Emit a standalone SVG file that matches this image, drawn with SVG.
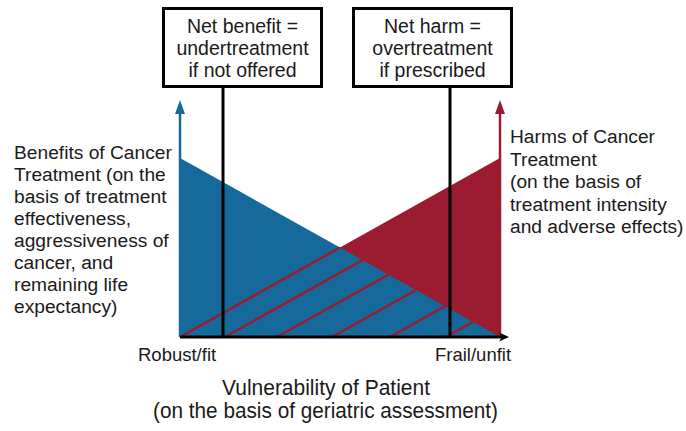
<svg xmlns="http://www.w3.org/2000/svg" width="686" height="431" viewBox="0 0 686 431">
  <style>
    text { font-family: "Liberation Sans", Arial, sans-serif; fill: #1a1a1a; }
    .box { fill: #ffffff; stroke: #000000; stroke-width: 3; }
    .vline { stroke: #000000; stroke-width: 3; fill: none; }
    .hatch { stroke: #9b1b30; stroke-width: 2.5; fill: none; }
    .bt { font-size: 19.5px; text-anchor: middle; }
    .side { font-size: 19.2px; }
    .axl { font-size: 18.5px; }
    .title { font-size: 22px; text-anchor: middle; }
  </style>

  <g id="chart">
    <polygon id="harms-area" points="180,337 500,158 500,337" fill="#9b1b30"/>
    <polygon id="benefits-area" points="180,158 180,337 500,337" fill="#16699b"/>
  </g>

  <g id="connectors">
    <line class="hatch" x1="180" y1="337" x2="340" y2="247.5"/>
    <line class="hatch" x1="225" y1="337" x2="362.5" y2="260.1"/>
    <line class="hatch" x1="277" y1="337" x2="388.5" y2="274.6"/>
    <line class="hatch" x1="332" y1="337" x2="416" y2="290"/>
    <line class="hatch" x1="390" y1="337" x2="445" y2="306.2"/>
    <line class="hatch" x1="446" y1="337" x2="473" y2="321.9"/>
    <line x1="180" y1="337" x2="180" y2="110" stroke="#16699b" stroke-width="2.5"/>
    <polygon points="180,100 175,114 185,114" fill="#16699b"/>
    <line x1="500" y1="337" x2="500" y2="110" stroke="#9b1b30" stroke-width="2.5"/>
    <polygon points="500,100 495,114 505,114" fill="#9b1b30"/>
    <line class="vline" x1="223" y1="88" x2="223" y2="337"/>
    <line class="vline" x1="450" y1="88" x2="450" y2="337"/>
    <line class="vline" x1="180" y1="337" x2="502" y2="337"/>
    <polygon points="509,337 499,332.5 502,337 499,341.5" fill="#000000"/>
  </g>

  <g id="net-benefit">
    <rect class="box" x="163.5" y="8.5" width="158" height="78"/>
    <text class="bt" x="242.5" y="33">Net benefit =</text>
    <text class="bt" x="242.5" y="55">undertreatment</text>
    <text class="bt" x="242.5" y="77">if not offered</text>
  </g>

  <g id="net-harm">
    <rect class="box" x="353.5" y="8.5" width="158" height="78"/>
    <text class="bt" x="432.5" y="33">Net harm =</text>
    <text class="bt" x="432.5" y="55">overtreatment</text>
    <text class="bt" x="432.5" y="77">if prescribed</text>
  </g>

  <g id="benefits-label">
    <text class="side" x="14" y="158.5">Benefits of Cancer</text>
    <text class="side" x="14" y="180.5">Treatment (on the</text>
    <text class="side" x="14" y="202.5">basis of treatment</text>
    <text class="side" x="14" y="224.5">effectiveness,</text>
    <text class="side" x="14" y="246.5">aggressiveness of</text>
    <text class="side" x="14" y="268.5">cancer, and</text>
    <text class="side" x="14" y="290.5">remaining life</text>
    <text class="side" x="14" y="312.5">expectancy)</text>
  </g>

  <g id="harms-label">
    <text class="side" x="510" y="143">Harms of Cancer</text>
    <text class="side" x="510" y="165.6">Treatment</text>
    <text class="side" x="510" y="188.2">(on the basis of</text>
    <text class="side" x="510" y="210.8">treatment intensity</text>
    <text class="side" x="510" y="233.4">and adverse effects)</text>
  </g>

  <g id="axis-labels">
    <text class="axl" x="138" y="361">Robust/fit</text>
    <text class="axl" x="435" y="361">Frail/unfit</text>
    <text class="title" x="326" y="395" textLength="208" lengthAdjust="spacingAndGlyphs">Vulnerability of Patient</text>
    <text class="title" x="325.5" y="418" textLength="345" lengthAdjust="spacingAndGlyphs">(on the basis of geriatric assessment)</text>
  </g>
</svg>
